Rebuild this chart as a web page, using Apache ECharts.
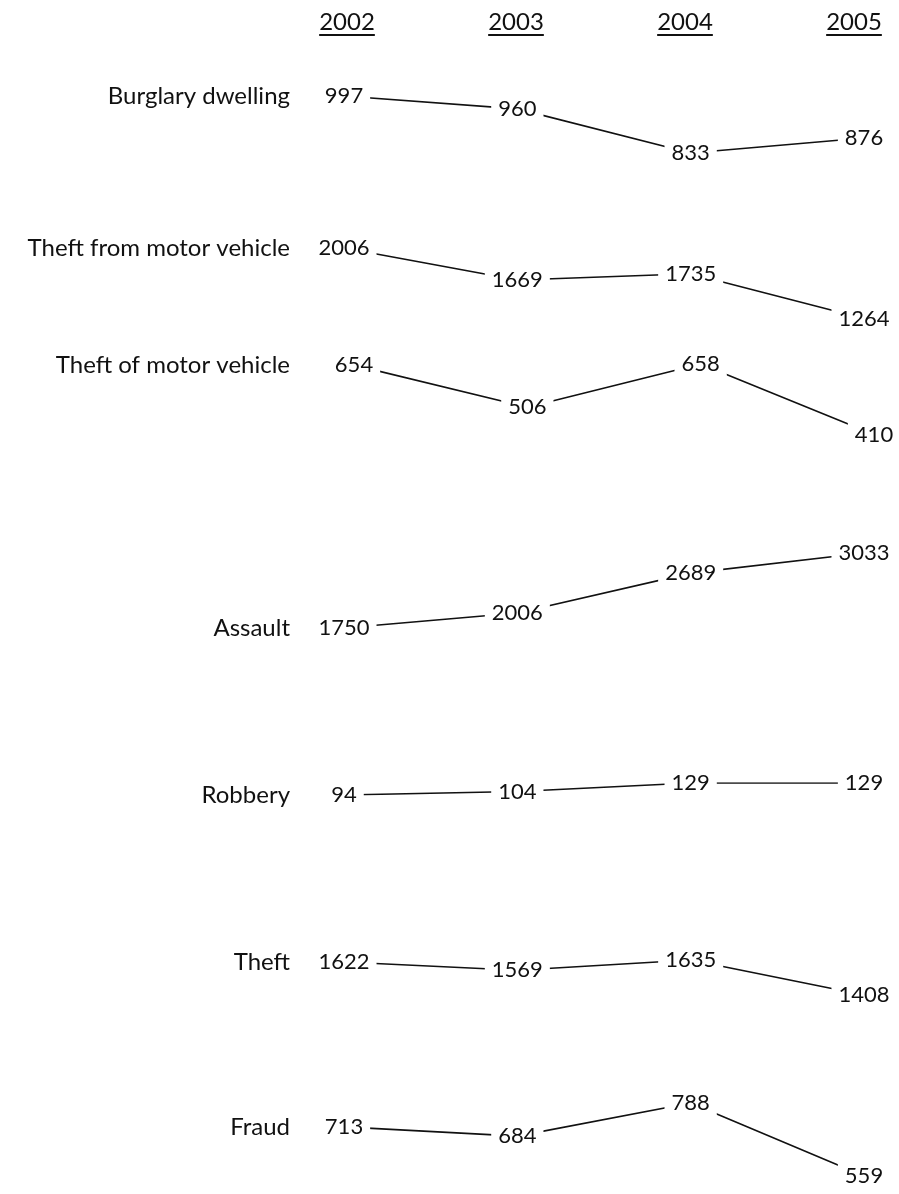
<!DOCTYPE html>
<html>
<head>
<meta charset="utf-8">
<script src="https://cdn.jsdelivr.net/npm/echarts@6/dist/echarts.min.js"></script>
<style>
html,body{margin:0;padding:0;background:#fff;}
#main{width:899px;height:1194px;}
</style>
</head>
<body>
<div id="main"></div>
<script>
// ---- data ----
const years = ['2002', '2003', '2004', '2005'];
const categories = ['Burglary dwelling', 'Theft from motor vehicle', 'Theft of motor vehicle', 'Assault', 'Robbery', 'Theft', 'Fraud'];
const v2002 = [997, 2006, 654, 1750, 94, 1622, 713];
const v2003 = [960, 1669, 506, 2006, 104, 1569, 684];
const v2004 = [833, 1735, 658, 2689, 129, 1635, 788];
const v2005 = [876, 1264, 410, 3033, 129, 1408, 559];

// ---- layout (pixel bands for each row: where the row max and row min sit) ----
const rowTop = [96, 248, 364, 553, 783, 960, 1103];
const rowBottom = [153, 318.5, 434.5, 628, 795, 995, 1176];
const rowShift = [0, 0, 10, 0, 0, 0, 0];
const colLeft = 344, colRight = 864, nameRight = 290;
const headLeft = 347, headRight = 854;

const FONT = 'Lato';
const FS = 22;      // values
const FS_NAME = 24; // row names
const FS_HEAD = 24; // year headers
const INK = '#111';

const grids = [], xAxes = [], yAxes = [], series = [];

// header grid
grids.push({ left: headLeft, right: 899 - headRight, top: 10, height: 24 });
xAxes.push({ type: 'category', data: years, boundaryGap: false, gridIndex: 0, show: false });
yAxes.push({ type: 'value', min: 0, max: 1, gridIndex: 0, show: false });

const measureCtx = document.createElement('canvas').getContext('2d');
measureCtx.font = FS_HEAD + 'px ' + FONT;

series.push({
  type: 'custom',
  xAxisIndex: 0, yAxisIndex: 0,
  data: years.map((y, i) => [i, 0.5]),
  renderItem: function (params, api) {
    const p = api.coord([api.value(0), api.value(1)]);
    const txt = years[params.dataIndex];
    const w = measureCtx.measureText(txt).width;
    return {
      type: 'group',
      children: [
        { type: 'text', style: { text: txt, x: p[0], y: p[1], align: 'center', verticalAlign: 'middle', fill: INK, fontSize: FS_HEAD, fontFamily: FONT } },
        { type: 'line', shape: { x1: p[0] - w / 2, y1: p[1] + 13, x2: p[0] + w / 2, y2: p[1] + 13 }, style: { stroke: INK, lineWidth: 2 } }
      ]
    };
  }
});

categories.forEach((name, i) => {
  const gi = i + 1;
  const vals = [v2002[i], v2003[i], v2004[i], v2005[i]];
  const mn = Math.min.apply(null, vals), mx = Math.max.apply(null, vals);
  grids.push({ left: colLeft + rowShift[i], right: 899 - colRight - rowShift[i], top: rowTop[i], height: rowBottom[i] - rowTop[i] });
  xAxes.push({ type: 'category', data: years, boundaryGap: false, gridIndex: gi, show: false });
  yAxes.push({ type: 'value', min: mn, max: mx, gridIndex: gi, show: false });
  series.push({
    type: 'line',
    name: name,
    xAxisIndex: gi, yAxisIndex: gi,
    data: vals,
    symbol: 'circle', symbolSize: 1,
    itemStyle: { color: '#fff' },
    lineStyle: { color: INK, width: 1.6 },
    label: {
      show: true, position: 'inside',
      color: INK, fontSize: FS, fontFamily: FONT,
      backgroundColor: '#fff', padding: [2, 7]
    },
    z: 2
  });
  series.push({
    type: 'scatter',
    xAxisIndex: gi, yAxisIndex: gi,
    data: [[0, v2002[i]]],
    symbolSize: 0,
    itemStyle: { color: '#fff', opacity: 1 },
    label: {
      show: true, position: 'left',
      distance: colLeft + rowShift[i] - nameRight,
      formatter: name,
      color: INK, opacity: 1, fontSize: FS_NAME, fontFamily: FONT
    },
    z: 3
  });
});

const chart = echarts.init(document.getElementById('main'), null, { renderer: 'canvas' });
chart.setOption({
  animation: false,
  backgroundColor: '#fff',
  grid: grids, xAxis: xAxes, yAxis: yAxes, series: series
});
</script>
</body>
</html>
